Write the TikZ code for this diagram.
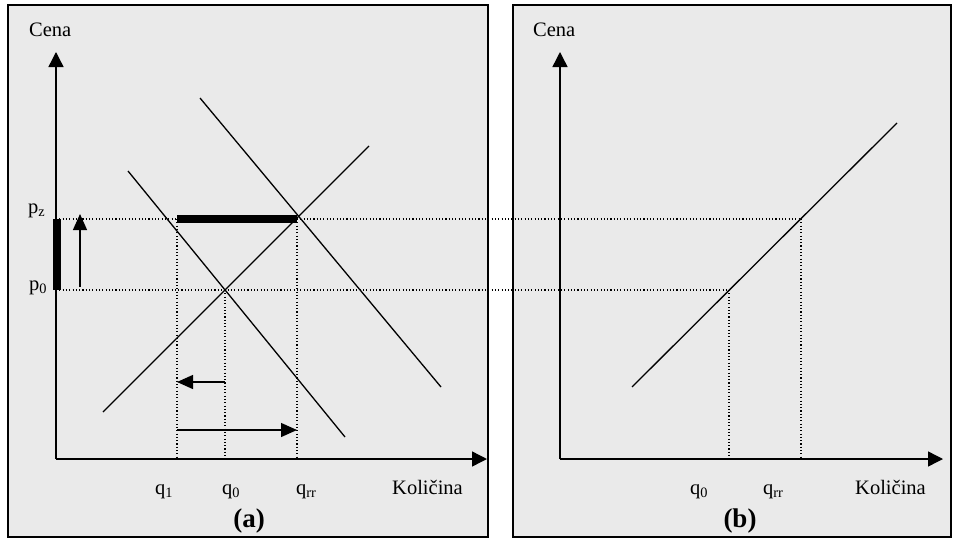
\documentclass[tikz,border=0pt]{standalone}
\usepackage{fontspec}
\setmainfont{Liberation Serif}
\usetikzlibrary{arrows.meta}
\definecolor{panelgray}{HTML}{EAEAEA}
\begin{document}
\begin{tikzpicture}[x=1pt,y=-1pt,
  panelbox/.style={draw=black, line width=1.5pt, fill=panelgray},
  axisline/.style={line width=1.4pt, -{Triangle[length=15pt,width=15pt]}},
  curve/.style={line width=1.3pt},
  guide/.style={line width=1.1pt, dash pattern=on 1.1pt off 2.2pt},
  thickbar/.style={line width=8pt},
  smallarrow/.style={line width=1.3pt, -{Triangle[length=16pt,width=14pt]}},
  lbl/.style={font=\fontsize{20.5}{24}\selectfont, inner sep=0pt, anchor=base west},
  panellbl/.style={font=\fontsize{27}{30}\selectfont\bfseries, inner sep=0pt, anchor=base}]
\useasboundingbox (0,0) rectangle (956,541);
\fill[white] (0,0) rectangle (956,541);
% panels
\draw[panelbox] (8,5) rectangle (488,537);
\draw[panelbox] (513,5) rectangle (951,537);

% ---------- left panel ----------
\coordinate (O) at (56,459);
\coordinate (Ytop) at (56,52);
\coordinate (Xend) at (487,459);
\coordinate (Pz) at (56,219);
\coordinate (P0) at (56,290);
\coordinate (A1) at (177,219);
\coordinate (E0) at (225,290);
\coordinate (Er) at (297,219);
\coordinate (Q1) at (177,459);
\coordinate (Q0) at (225,459);
\coordinate (Qr) at (297,459);
% right panel points
\coordinate (RO) at (560,459);
\coordinate (RYtop) at (560,52);
\coordinate (RXend) at (943,459);
\coordinate (RE0) at (729,290);
\coordinate (REr) at (801,219);
\coordinate (RQ0) at (729,459);
\coordinate (RQr) at (801,459);

% guides
\draw[guide] (Pz) -- (REr);
\draw[guide] (P0) -- (RE0);
\draw[guide] (A1) -- (Q1);
\draw[guide] (E0) -- (Q0);
\draw[guide] (Er) -- (Qr);
\draw[guide] (RE0) -- (RQ0);
\draw[guide] (REr) -- (RQr);

% curves
\coordinate (D1a) at (128,171);
\coordinate (D1b) at (345,437);
\coordinate (D2a) at (200,98);
\coordinate (D2b) at (441,387);
\coordinate (Sa) at (103,412);
\coordinate (Sb) at (369,146);
\draw[curve] (D1a) -- (D1b);
\draw[curve] (D2a) -- (D2b);
\draw[curve] (Sa) -- (Sb);

% thick bars
\draw[thickbar] (A1) -- (Er);
\draw[thickbar] (57,219) -- (57,290);

% axes
\draw[axisline] (O) -- (Ytop);
\draw[axisline] (O) -- (Xend);

% small arrows
\coordinate (UpA) at (80,287);
\coordinate (UpB) at (80,214);
\draw[smallarrow] (UpA) -- (UpB);
\coordinate (LA) at (225,382);
\coordinate (LB) at (177,382);
\draw[smallarrow] (LA) -- (LB);
\coordinate (RA) at (177,430);
\coordinate (RB) at (297,430);
\draw[smallarrow] (RA) -- (RB);

% labels left
\node[lbl] (cenaL) at (29,36) {Cena};
\node[lbl] (pz) at (28,213) {p\textsubscript{z}};
\node[lbl] (p0) at (29,290) {p\textsubscript{0}};
\node[lbl] (q1) at (155,494) {q\textsubscript{1}};
\node[lbl] (q0) at (222,494) {q\textsubscript{0}};
\node[lbl] (qr) at (296,494) {q\textsubscript{rr}};
\node[lbl] (kolL) at (392,494) {Količina};
\node[panellbl] (pa) at (249,527) {(a)};

% ---------- right panel ----------
\coordinate (RSa) at (632,387);
\coordinate (RSb) at (897,123);
\draw[curve] (RSa) -- (RSb);
\draw[axisline] (RO) -- (RYtop);
\draw[axisline] (RO) -- (RXend);

\node[lbl] (cenaR) at (533,36) {Cena};
\node[lbl] (rq0) at (690,494) {q\textsubscript{0}};
\node[lbl] (rqr) at (763,494) {q\textsubscript{rr}};
\node[lbl] (kolR) at (855,494) {Količina};
\node[panellbl] (pb) at (740,527) {(b)};
\end{tikzpicture}
\end{document}
